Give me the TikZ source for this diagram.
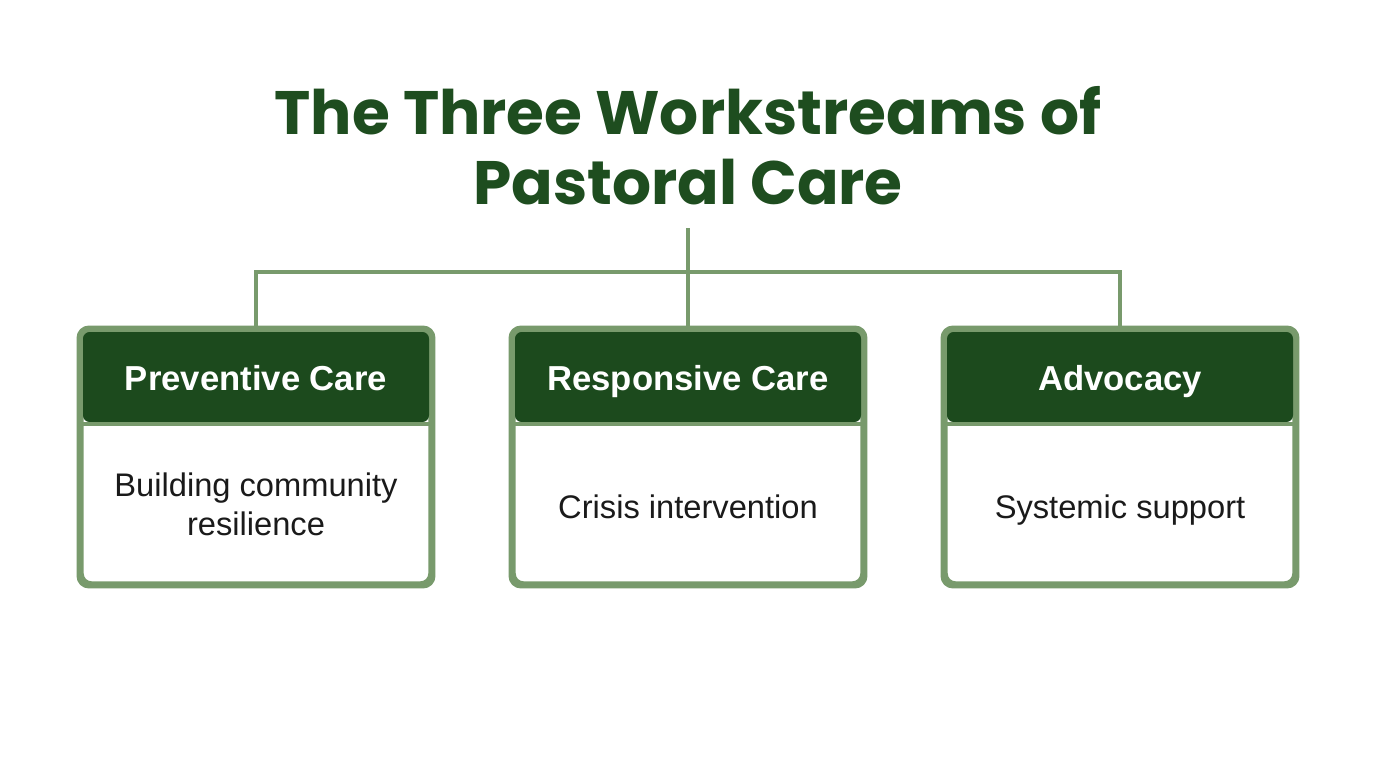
\documentclass[tikz,border=0pt]{standalone}
\usepackage{fontspec}
\setmainfont{Liberation Sans}
\newfontfamily\titlefont{Poppins}
\definecolor{dkgreen}{HTML}{1C4A1D}
\definecolor{ttgreen}{HTML}{1E4D1F}
\definecolor{ltgreen}{HTML}{789A6C}
\definecolor{bodytxt}{HTML}{1A1A1A}
\begin{document}
\begin{tikzpicture}[x=0.75pt,y=-0.75pt,
  titlestyle/.style={anchor=base,align=center,inner sep=0pt,text=ttgreen,font=\titlefont\bfseries\fontsize{46}{52.5}\selectfont},
  boxstyle/.style={draw=ltgreen,line width=3.6pt,fill=white,rounded corners=7.5pt,minimum width=262pt,minimum height=190pt,inner sep=0pt},
  hdrstyle/.style={fill=dkgreen,rounded corners=5pt,minimum width=259.5pt,minimum height=67.5pt,inner sep=0pt},
  hdrtext/.style={anchor=base,text=white,inner sep=0pt,font=\bfseries\fontsize{26}{29}\selectfont},
  bodystyle/.style={anchor=base,align=center,inner sep=0pt,text=bodytxt,font=\fontsize{24.5}{29.25}\selectfont},
  conn/.style={draw=ltgreen,line width=3pt}]
\useasboundingbox (0,0) rectangle (1376,768);
\node[titlestyle] (title) at (688,204) {The Three Workstreams of\\Pastoral Care};
\coordinate (top) at (688,228);
\coordinate (hub) at (688,272);
% boxes
\node[boxstyle] (b1) at (256,457) {};
\node[boxstyle] (b2) at (688,457) {};
\node[boxstyle] (b3) at (1120,457) {};
\foreach \b/\x in {b1/256,b2/688,b3/1120}{
  \node[hdrstyle] (\b h) at (\x,377) {};
  \draw[ltgreen,line width=3.6pt] (\x-175,424) -- (\x+175,424);
  \draw[ltgreen,line width=3.6pt,rounded corners=7.5pt] (\b.north west) rectangle (\b.south east);
}
\node[hdrtext] (t1) at (256,390) {Preventive Care};
\node[hdrtext] (t2) at (688,390) {Responsive Care};
\node[hdrtext] (t3) at (1120,390) {Advocacy};
\node[bodystyle] (d1) at (256,535) {Building community\\resilience};
\node[bodystyle] (d2) at (688,518) {Crisis intervention};
\node[bodystyle] (d3) at (1120,518) {Systemic support};
% connectors
\draw[conn] (top) -- (b2.north);
\draw[conn] (b1.north) |- (hub) -| (b3.north);
\end{tikzpicture}
\end{document}
